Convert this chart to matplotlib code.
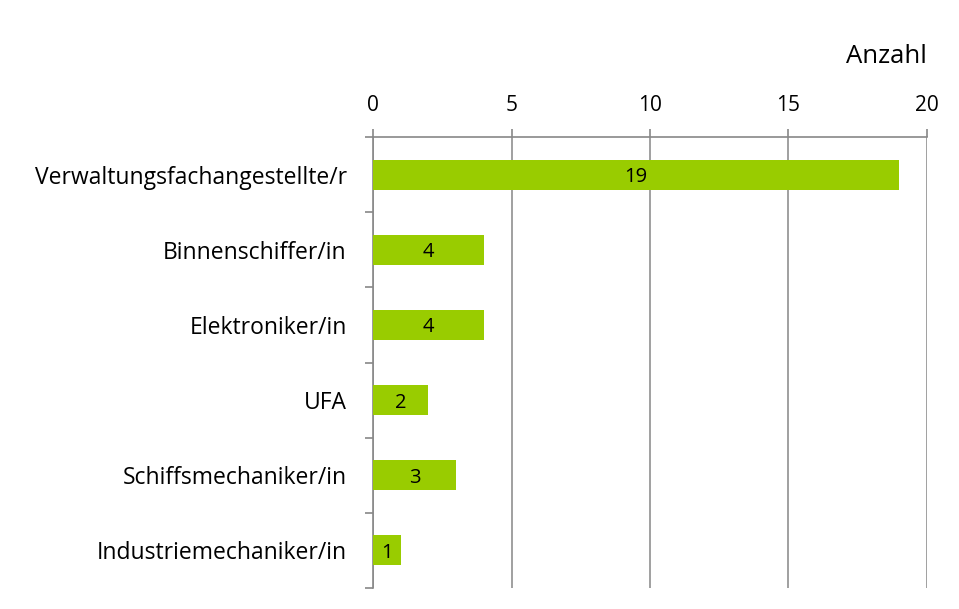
import matplotlib.pyplot as plt
import numpy as np

categories = ['Verwaltungsfachangestellte/r', 'Binnenschiffer/in', 'Elektroniker/in',
              'UFA', 'Schiffsmechaniker/in', 'Industriemechaniker/in']
values = [19, 4, 4, 2, 3, 1]
xticks = [0, 5, 10, 15, 20]

plt.rcParams['font.family'] = ['Open Sans', 'DejaVu Sans']

fig = plt.figure(figsize=(9.59, 6.09), dpi=100)
ax = fig.add_axes([0.389, 0.0345, 0.5776, 0.7405])

y = np.arange(len(categories))
bars = ax.barh(y, values, height=0.4, color='#99cc00', zorder=3)
for yi, v in zip(y, values):
    ax.text(v / 2, yi, str(v), ha='center', va='center_baseline', fontsize=14.5, zorder=4)

ax.set_ylim(len(categories) - 0.5, -0.5)
ax.set_xlim(0, 20)
ax.set_xticks(xticks)
ax.xaxis.tick_top()
ax.tick_params(axis='x', labelsize=15, length=6, width=1.2, color='#888888', pad=9)
ax.grid(axis='x', color='#999999', linewidth=1.3, zorder=0)

ax.set_yticks(y)
ax.set_yticklabels(categories, fontsize=16.5)
ax.tick_params(axis='y', length=0, pad=19)
ax.set_yticks(np.arange(len(categories) + 1) - 0.5, minor=True)
ax.tick_params(axis='y', which='minor', length=6, width=1.2, color='#888888')

for s in ['right', 'bottom']:
    ax.spines[s].set_visible(False)
for s in ['left', 'top']:
    ax.spines[s].set_color('#888888')
    ax.spines[s].set_linewidth(1.2)

fig.text(0.9666, 0.908, 'Anzahl', ha='right', va='center', fontsize=18.5)

fig.savefig('out.png', dpi=100)
